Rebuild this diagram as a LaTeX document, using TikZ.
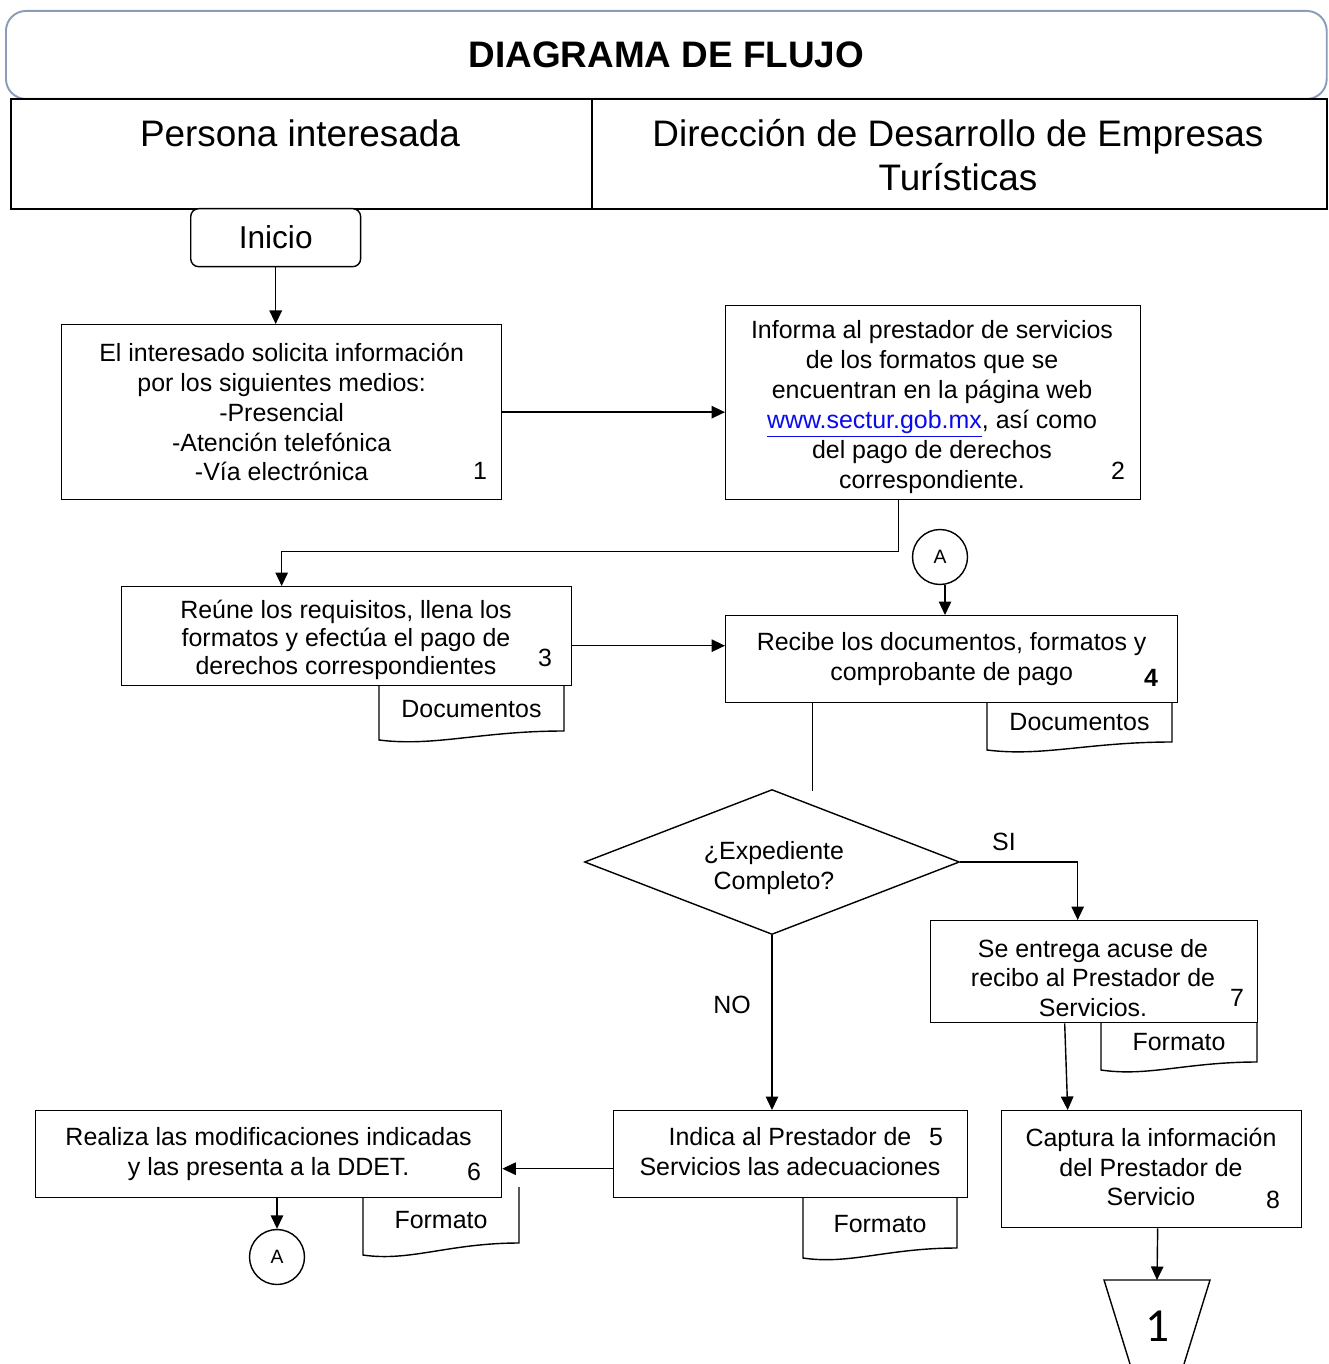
\documentclass[tikz,border=0pt]{standalone}
\usepackage{fontspec}
\setmainfont{Liberation Sans}
\newfontfamily\offfont{Carlito}
\usetikzlibrary{shapes.geometric,arrows.meta}

\definecolor{titleframe}{RGB}{138,156,184}
\definecolor{linkblue}{RGB}{10,10,235}

\tikzset{
  proc/.style={draw, line width=0.8pt, fill=white, anchor=north west, align=center,
    inner sep=0pt, font=\fontsize{14.2}{17}\selectfont},
  boxtext/.style={align=center, inner sep=0pt, font=\fontsize{14.2}{17}\selectfont},
  stepno/.style={inner sep=0pt, font=\fontsize{14.2}{17}\selectfont},
  lbl/.style={inner sep=0pt, font=\fontsize{14.2}{17}\selectfont},
  conn/.style={draw, circle, line width=0.8pt, minimum size=1.1cm, inner sep=0pt,
    font=\fontsize{11}{13}\selectfont},
  flow/.style={-{Triangle[length=2.7mm,width=2.5mm]}, line width=0.8pt},
  lane/.style={draw, line width=1.1pt, anchor=north west, inner sep=0pt, minimum height=2.2cm},
  lanetext/.style={align=center, inner sep=0pt, font=\fontsize{21}{25}\selectfont},
}

% document sheet: name, x left, y top, x right, y bottom left, y bottom right, text
\newcommand{\docsheet}[7]{%
  \draw[line width=0.8pt, fill=white] (#2,#3) -- (#2,#5)
    .. controls ({#2+0.3*(#4-#2)},{#5+7}) and ({#2+0.55*(#4-#2)},{#6}) .. (#4,#6)
    -- (#4,#3);
  \node[lbl] (#1) at ({(#2+#4)/2},{#3+0.48*(#5-#3)}) {#7};
}

\begin{document}
\begin{tikzpicture}[x=0.02cm, y=-0.02cm]
  \useasboundingbox (0,0) rectangle (1328,1364);

  % heading
  \node[draw=titleframe, line width=1.1pt, rounded corners=0.4cm, anchor=north west,
    minimum width=26.42cm, minimum height=1.76cm, inner sep=0pt,
    font=\fontsize{21}{25}\selectfont\bfseries] (titlebox) at (5,10) {DIAGRAMA DE FLUJO};
  \node[lane, minimum width=11.62cm] (lane1) at (10,98) {};
  \node[lane, minimum width=14.7cm] (lane2) at (591,98) {};
  \node[lanetext] (hdr1) at (300,133) {Persona interesada};
  \node[lanetext] (hdr2) at (958,155) {Dirección de Desarrollo de Empresas\\Turísticas};

  % documents (behind the boxes)
  \docsheet{doc3}{379}{680}{564}{740}{731}{Documentos}
  \docsheet{doc4}{987}{697}{1172}{750}{742}{Documentos}
  \docsheet{doc7}{1101}{1017}{1257}{1070}{1062}{Formato}
  \docsheet{doc5}{803}{1192}{957}{1258}{1248}{Formato}
  \docsheet{doc6}{363}{1187}{519}{1255}{1243}{Formato}

  % steps
  \node[proc, rounded corners=0.16cm, minimum width=3.4cm, minimum height=1.16cm,
    font=\fontsize{18}{21}\selectfont] (inicio) at (190,208) {Inicio};
  \node[proc, minimum width=8.8cm, minimum height=3.5cm] (b1) at (61,324)
    {El interesado solicita información\\por los siguientes medios:\\-Presencial\\-Atención telefónica\\-Vía electrónica};
  \node[proc, minimum width=8.3cm, minimum height=3.88cm] (b2) at (725,305) {};
  \node[boxtext] (t2) at (932,407)
    {Informa al prestador de servicios\\de los formatos que se\\encuentran en la página web\\
     \textcolor{linkblue}{\underline{www.sectur.gob.mx}}, así como\\del pago de derechos\\correspondiente.};
  \node[proc, minimum width=9cm, minimum height=1.98cm] (b3) at (121,586) {};
  \node[boxtext, font=\fontsize{14.2}{16}\selectfont] (t3) at (346,640)
    {Reúne los requisitos, llena los\\formatos y efectúa el pago de\\derechos correspondientes};
  \node[proc, minimum width=9.04cm, minimum height=1.74cm] (b4) at (725,615)
    {Recibe los documentos, formatos y\\comprobante de pago};
  \node[draw, diamond, aspect=2.6, line width=0.8pt, fill=white, minimum width=7.5cm,
    minimum height=2.9cm, inner sep=0pt] (d) at (772,862) {};
  \node[boxtext] (td) at (774,868) {¿Expediente\\Completo?};
  \node[proc, minimum width=6.54cm, minimum height=2.04cm] (b7) at (930,920) {};
  \node[boxtext] (t7) at (1093,978) {Se entrega acuse de\\recibo al Prestador de\\Servicios.};
  \node[proc, minimum width=6cm, minimum height=2.34cm] (b8) at (1001,1110) {};
  \node[boxtext] (t8) at (1151,1167) {Captura la información\\del Prestador de\\Servicio};
  \node[proc, minimum width=7.08cm, minimum height=1.74cm] (b5) at (613,1110) {};
  \node[boxtext] (t5) at (790,1152) {Indica al Prestador de\\Servicios las adecuaciones};
  \node[proc, minimum width=9.32cm, minimum height=1.74cm] (b6) at (35,1110)
    {Realiza las modificaciones indicadas\\y las presenta a la DDET.};

  % step numbers
  \node[stepno] (n1) at (480,471) {1};
  \node[stepno] (n2) at (1118,471) {2};
  \node[stepno] (n3) at (545,658) {3};
  \node[stepno, font=\fontsize{14.2}{17}\selectfont\bfseries] (n4) at (1151,678) {4};
  \node[stepno] (n5) at (936,1137) {5};
  \node[stepno] (n6) at (474,1172) {6};
  \node[stepno] (n7) at (1237,998) {7};
  \node[stepno] (n8) at (1273,1200) {8};

  % connectors A and off-page 1
  \node[conn] (cA) at (940,557) {A};
  \node[conn] (cA2) at (277,1257) {A};
  \draw[line width=0.8pt] (1130,1364) -- (1104,1280) -- (1210,1280) -- (1184,1364);
  \coordinate (offtop) at (1157,1280);
  \node[inner sep=0pt, font=\offfont\fontsize{27}{30}\selectfont] (off1) at (1157,1326) {1};

  % labels
  \node[lbl] (si) at (1004,842) {SI};
  \node[lbl] (no) at (732,1005) {NO};

  % flow
  \draw[flow] (inicio.south) -- (inicio.south |- b1.north);
  \draw[flow] (b1.east) -- (b1.east -| b2.west);
  \draw[flow] ([xshift=-0.69cm]b2.south) -- ++(0,51) -| (b3.north -| b1.north);
  \draw[flow] ([yshift=-0.19cm]b3.east) -- ([yshift=-0.19cm]b3.east -| b4.west);
  \draw[flow] ([xshift=0.1cm]cA.south) -- ([xshift=0.1cm]cA.south |- b4.north);
  \draw[line width=0.8pt] ([xshift=-2.78cm]b4.south) -- ++(0,88);
  \draw[flow] (d.east) -| ([xshift=-0.33cm]b7.north);
  \draw[flow] (d.south) -- (d.south |- b5.north);
  \draw[flow] ([xshift=-0.59cm]b7.south) -- ([xshift=-0.53cm]b7.south |- b8.north);
  \draw[flow] ([xshift=0.12cm]b8.south) -- (offtop);
  \draw[flow] ([yshift=-0.29cm]b5.west) -- ([yshift=-0.29cm]b5.west -| b6.east);
  \draw[flow] (cA2.north |- b6.south) -- (cA2.north);
\end{tikzpicture}
\end{document}
